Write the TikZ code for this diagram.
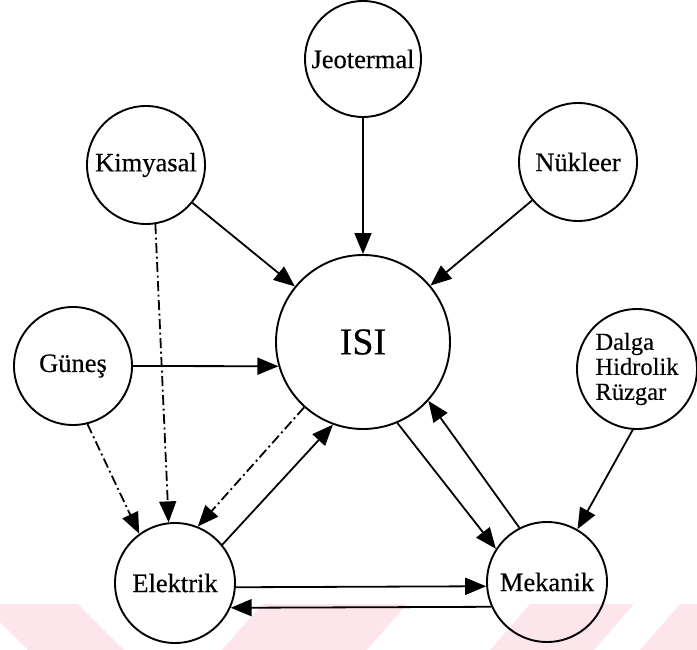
\documentclass[tikz,border=0pt]{standalone}
\usepackage{fontspec}
\setmainfont{Liberation Serif}
\newfontfamily\labelfont{Liberation Serif}[FakeBold=0.4]
\usetikzlibrary{arrows.meta}
\definecolor{wmpink}{RGB}{252,230,236}
\begin{document}
\begin{tikzpicture}[x=1pt,y=-1pt,
  state/.style={circle,draw,line width=1.9pt,inner sep=0pt,
    font=\labelfont\fontsize{26.5}{26.5}\selectfont},
  flow/.style={line width=1.8pt,-{Triangle[length=21pt,width=17pt]}},
  aux/.style={flow,dash pattern=on 10pt off 3.5pt on 2pt off 3.5pt}]
\useasboundingbox (0,0) rectangle (697,650);

% faint stripes along the bottom edge
\begin{scope}
  \clip (0,0) rectangle (697,650);
  \fill[wmpink] (-18,604) -- (78,604) -- (124,650) -- (28,650) -- cycle;
  \fill[wmpink] (262,604) -- (407,604) -- (367,650) -- (222,650) -- cycle;
  \fill[wmpink] (530,604) -- (634,604) -- (594,650) -- (490,650) -- cycle;
  \fill[wmpink] (680,604) -- (784,604) -- (744,650) -- (640,650) -- cycle;
\end{scope}

% energy forms
\node[state,minimum size=116pt] (jeo) at (363,59)  {Jeotermal};
\node[state,minimum size=118pt] (kim) at (146,165) {Kimyasal};
\node[state,minimum size=118pt] (nuk) at (578,162) {Nükleer};
\node[state,minimum size=174pt,font=\labelfont\fontsize{38}{38}\selectfont] (isi) at (363,342) {ISI};
\node[state,minimum size=118pt] (gun) at (73,366)  {Güneş};
\node[state,minimum size=120pt,align=left,font=\labelfont\fontsize{24.5}{25}\selectfont] (dal) at (637,369) {Dalga\\Hidrolik\\Rüzgar};
\node[state,minimum size=120pt] (ele) at (175,583) {Elektrik};
\node[state,minimum size=120pt] (mek) at (547,582) {Mekanik};

% conversions into heat
\draw[flow] (jeo) -- (isi);
\draw[flow] (kim) -- (isi);
\draw[flow] (nuk) -- (isi);
\draw[flow] (gun.east) -- (isi.196);

% secondary paths into electricity
\draw[aux] (kim.-81.5) -- (ele.96.7);
\draw[aux] (gun.-76) -- (ele.126.5);
\draw[aux] (isi.228) -- (ele.68);

% heat, electricity and mechanical exchanges
\draw[flow] (ele.39) -- (isi.250);
\draw[flow] (isi.293) -- (mek.147);
\draw[flow] (mek.117) -- (isi.318);
\draw[flow] (dal.266.5) -- (mek.60);
\draw[flow] (ele.-4.8) -- (mek.184.8);
\draw[flow] (mek.204.6) -- (ele.-24.6);
\end{tikzpicture}
\end{document}
